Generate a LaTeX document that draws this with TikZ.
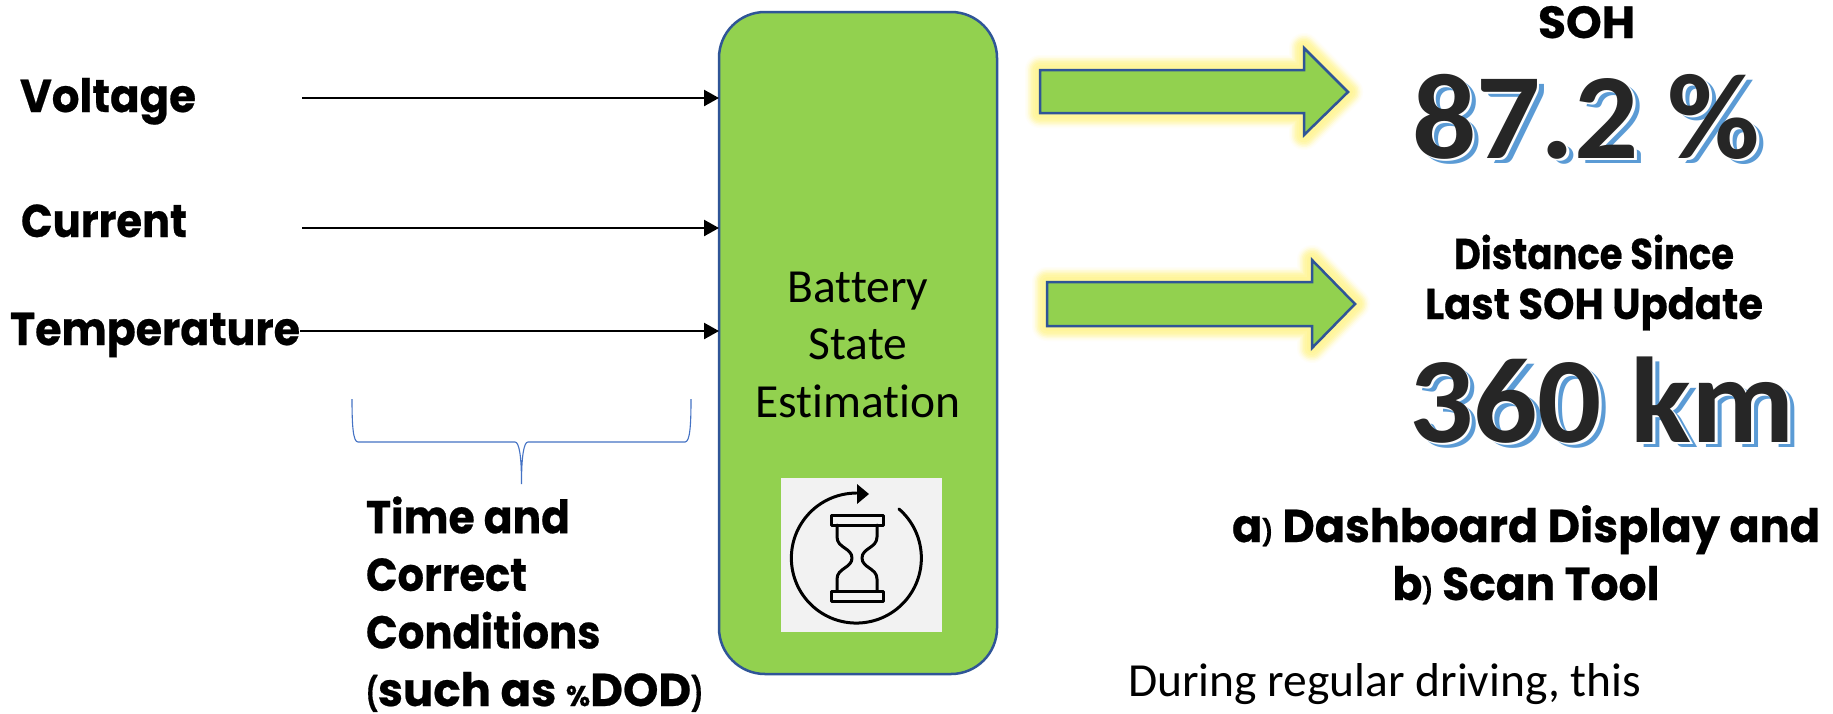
\documentclass[tikz,border=0pt]{standalone}
\usepackage{fontspec}
\usepackage{graphicx}
\usetikzlibrary{arrows.meta}
\setmainfont{Carlito}[Ligatures=NoCommon]
\newfontfamily\fut{Poppins}[BoldFeatures={FakeBold=0.5}]
\definecolor{boxgreen}{HTML}{92D14F}
\definecolor{boxblue}{HTML}{2F5597}
\definecolor{bracecol}{HTML}{4472C4}
\definecolor{shadowblue}{HTML}{5B9BD5}
\definecolor{bigdark}{HTML}{262626}
\definecolor{iconbg}{HTML}{F2F2F2}
\definecolor{glow}{HTML}{FFF59B}
% width-fitted heavy label
\newcommand{\fitline}[3]{\resizebox*{#2pt}{\totalheight}{\fontsize{#1}{#1}\fut\bfseries\selectfont #3}}
% the small brackets and percent sign of the heavy face
\newcommand{\smlo}{\raisebox{1pt}{\scalebox{.55}[.72]{(}}}
\newcommand{\smlc}{\raisebox{1pt}{\scalebox{.55}[.72]{)}}}
\newcommand{\smcl}{\raisebox{1pt}{\scalebox{.5}[.55]{)}}}
% big number with white and blue offset shadow, one text node
\newcommand{\bigtext}[1]{\scalebox{1.04}[1]{\fontsize{122}{122}\bfseries\selectfont
  \rlap{\raisebox{-5pt}{\hspace{6.5pt}\textcolor{shadowblue}{#1}}}%
  \rlap{\raisebox{-2pt}{\hspace{2.5pt}\textcolor{white}{#1}}}%
  \textcolor{bigdark}{#1}}}
\tikzset{
  lbl/.style={anchor=base west,inner sep=0pt,outer sep=0pt},
  inarrow/.style={line width=2.4pt,-{Triangle[length=15pt,width=16pt]}},
  fatarrow/.style={draw=boxblue,fill=boxgreen,line width=2.5pt,line join=miter},
  iconline/.style={draw=black,line width=3pt,line join=round,line cap=round},
  bracel/.style={draw=bracecol,line width=1.1pt}
}
\begin{document}
\begin{tikzpicture}[x=1pt,y=-1pt]
\useasboundingbox (0,0) rectangle (1833,713);
\fill[white] (0,0) rectangle (1833,713);
% main box
\node[draw=boxblue,fill=boxgreen,line width=2.5pt,rounded corners=46pt,
  minimum width=278pt,minimum height=662pt,inner sep=0pt,outer sep=0pt] (box) at (858,343) {};
\node[anchor=base,inner sep=0pt] (title) at (858,417)
  {\parbox[b]{270pt}{\centering\fontsize{47.5}{57.5}\selectfont Battery\\State\\Estimation}};
% icon
\node[fill=iconbg,minimum width=161pt,minimum height=154pt,inner sep=0pt,outer sep=0pt] (icon) at (861.5,555) {};
\draw[iconline] (899,509) arc[start angle=-49,end angle=270,radius=65];
\fill (857,484) -- (869,494) -- (857,504) -- cycle;
\draw[iconline] (831,515) rectangle (883,525);
\draw[iconline] (831,591) rectangle (883,601);
\draw[iconline] (837,525) -- (837,537) .. controls (837,548) and (852,548) .. (852,558)
  .. controls (852,568) and (837,568) .. (837,579) -- (837,591);
\draw[iconline] (877,525) -- (877,537) .. controls (877,548) and (862,548) .. (862,558)
  .. controls (862,568) and (877,568) .. (877,579) -- (877,591);
% left labels
\node[lbl] (volt) at (20,112) {\fitline{46}{176}{Voltage}};
\node[lbl] (curr) at (21,237) {\fitline{46}{166}{Current}};
\node[lbl] (temp) at (10,345) {\fitline{46}{290}{Temperature}};
\coordinate (vs) at (302,98);
\coordinate (cs) at (302,228);
\coordinate (ts) at (300,331);
\draw[inarrow] (vs) -- (vs -| box.west);
\draw[inarrow] (cs) -- (cs -| box.west);
\draw[inarrow] (ts) -- (ts -| box.west);
% brace
\coordinate (bl) at (352,399);
\coordinate (br) at (691,399);
\coordinate (bt) at (521.5,484);
\draw[bracel] (bl) .. controls (352,425) and (353,442) .. (358,442) -- (515,442)
  .. controls (519,442) and (521.5,455) .. (bt)
  .. controls (521.5,455) and (524,442) .. (528,442) -- (685,442)
  .. controls (690,442) and (691,425) .. (br);
\node[lbl,anchor=base west] (cond) at (366,706)
  {\parbox[b]{345pt}{\raggedright\baselineskip=57.6pt
    \fitline{46}{204}{Time and}\\
    \fitline{46}{161}{Correct}\\
    \fitline{46}{234.5}{Conditions}\\
    \fitline{46}{337}{\smlo such as \scalebox{.62}{\%}DOD\smlc}}};
% fat arrows with glow
\foreach \w/\c in {30/8,27/20,24/38,21/58,18/75,15/90,10/100}{
  \draw[line width=\w pt,glow!\c!white,line join=round]
    (1040,70) -- (1304,70) -- (1304,48) -- (1348,92) -- (1304,135) -- (1304,113) -- (1040,113) -- cycle;
  \draw[line width=\w pt,glow!\c!white,line join=round]
    (1047,282) -- (1312,282) -- (1312,260) -- (1355,304) -- (1312,348) -- (1312,326) -- (1047,326) -- cycle;
}
\path[fatarrow] (1040,70) -- (1304,70) -- (1304,48) -- (1348,92) -- (1304,135) -- (1304,113) -- (1040,113) -- cycle;
\path[fatarrow] (1047,282) -- (1312,282) -- (1312,260) -- (1355,304) -- (1312,348) -- (1312,326) -- (1047,326) -- cycle;
% right texts
\node[lbl] (soh) at (1538,38) {\fitline{45}{97}{SOH}};
\node[lbl] (val1) at (1412,158) {\bigtext{87.2 \%}};
\node[anchor=base,inner sep=0pt] (dist) at (1594,319)
  {\parbox[b]{360pt}{\centering\baselineskip=50pt
    \fitline{43}{280}{Distance Since}\\
    \fitline{43}{338}{Last SOH Update}}};
\node[lbl] (val2) at (1409,442) {\bigtext{360 km}};
\node[anchor=base,inner sep=0pt] (tool) at (1526,600)
  {\parbox[b]{610pt}{\centering\baselineskip=58pt
    \fitline{46}{588}{a\smcl{} Dashboard Display and}\\
    \fitline{46}{267}{b\smcl{} Scan Tool}}};
\node[lbl] (during) at (1128,696) {\fontsize{47.5}{47.5}\selectfont During regular driving, this};
\end{tikzpicture}
\end{document}
